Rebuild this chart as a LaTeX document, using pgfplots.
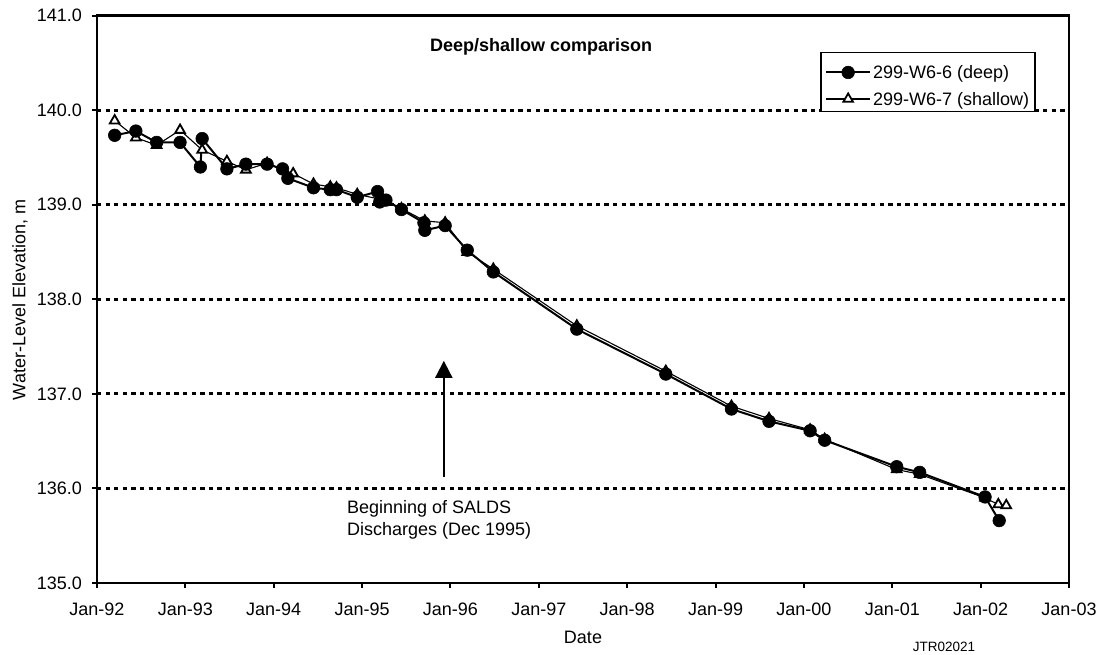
\documentclass[border=0pt]{standalone}
\usepackage{fontspec}
\setmainfont{Liberation Sans}
\usepackage{pgfplots}
\pgfplotsset{compat=1.18}
\usetikzlibrary{arrows.meta}

\pgfplotsset{
  deep/.style={black, line width=2pt, mark=*, mark size=6.3pt, mark options={solid, fill=black, line width=0.6pt}},
  shallow/.style={black, line width=1.1pt, mark=triangle*, mark size=5.6pt, mark options={solid, fill=white, line width=1.8pt}},
}

\begin{document}
\fontsize{18}{21.6}\selectfont
\begin{tikzpicture}
\path[use as bounding box] (-97pt,-72pt) rectangle (1006pt,583pt);
\begin{axis}[
  at={(0pt,0pt)}, anchor=south west,
  scale only axis, width=972pt, height=567.3pt,
  xmin=1992, xmax=2003, ymin=135, ymax=141,
  clip=false,
  xtick={1992,1993,1994,1995,1996,1997,1998,1999,2000,2001,2002,2003},
  xticklabels={Jan-92,Jan-93,Jan-94,Jan-95,Jan-96,Jan-97,Jan-98,Jan-99,Jan-00,Jan-01,Jan-02,Jan-03},
  ytick={135,136,137,138,139,140,141},
  /pgf/number format/assume math mode=true,
  yticklabel style={/pgf/number format/fixed, /pgf/number format/fixed zerofill, /pgf/number format/precision=1, anchor=east},
  every tick label/.append style={font=\fontsize{18}{20}\selectfont, inner sep=0pt},
  xticklabel style={anchor=north},
  yticklabel shift=10pt,
  xticklabel shift=15pt,
  xtick pos=lower, ytick pos=lower,
  tick align=outside,
  major tick length=5pt,
  tick style={line width=2pt, black},
  minor tick num=0,
  axis line style={line width=2.4pt, black},
  ymajorgrids,
  grid style={black, line width=2.8pt, dash pattern=on 4.3pt off 4.3pt},
  xlabel={Date},
  xlabel style={at={(axis description cs:0.5,0)}, anchor=center, yshift=-54pt, font=\fontsize{18}{20}\selectfont},
  ylabel={Water-Level Elevation, m},
  ylabel style={at={(axis description cs:-0.0792,0.4989)}, anchor=center, font=\fontsize{18}{20}\selectfont},
  legend style={at={(0.966,0.936)}, anchor=north east, draw=black, line width=1.5pt, fill=white,
    font=\fontsize{18}{20}\selectfont, inner xsep=4pt, inner ysep=4.2pt, row sep=2.6pt,
    nodes={text height=20pt, text depth=0pt, inner sep=2pt}},
  legend cell align=left,
  legend image code/.code={\draw[mark repeat=2,mark phase=2, yshift=-3.5pt] plot coordinates {(0pt,0pt)(22pt,0pt)(44pt,0pt)};},
]
\addlegendimage{deep}
\addlegendentry{299-W6-6 (deep)\hspace{6pt}}
\addlegendimage{shallow}
\addlegendentry{299-W6-7 (shallow)\hspace{6pt}}

\addplot[shallow, forget plot] coordinates {
(1992.20,139.89)
(1992.44,139.71)
(1992.675,139.63)
(1992.94,139.79)
(1993.19,139.58)
(1993.47,139.46)
(1993.685,139.37)
(1993.925,139.44)
(1994.22,139.33)
(1994.45,139.22)
(1994.64,139.19)
(1994.71,139.18)
(1994.945,139.11)
(1995.20,139.06)
(1995.445,138.96)
(1995.71,138.83)
(1995.94,138.81)
(1996.19,138.50)
(1996.485,138.32)
(1997.43,137.72)
(1998.437,137.24)
(1999.18,136.87)
(1999.605,136.74)
(2000.07,136.62)
(2000.235,136.52)
(2001.05,136.20)
(2001.31,136.15)
(2002.05,135.90)
(2002.20,135.83)
(2002.29,135.82)
};

\addplot[deep, forget plot] coordinates {
(1992.20,139.735)
(1992.44,139.78)
(1992.675,139.66)
(1992.94,139.66)
(1993.17,139.40)
(1993.19,139.70)
(1993.47,139.38)
(1993.685,139.43)
(1993.925,139.43)
(1994.10,139.38)
(1994.16,139.28)
(1994.45,139.18)
(1994.64,139.16)
(1994.71,139.16)
(1994.945,139.08)
(1995.175,139.14)
(1995.20,139.03)
(1995.27,139.05)
(1995.445,138.95)
(1995.70,138.81)
(1995.71,138.73)
(1995.94,138.78)
(1996.19,138.52)
(1996.485,138.29)
(1997.43,137.685)
(1998.437,137.21)
(1999.18,136.84)
(1999.605,136.71)
(2000.07,136.61)
(2000.235,136.51)
(2001.05,136.23)
(2001.31,136.17)
(2002.05,135.91)
(2002.21,135.66)
};

\draw[line width=2pt, -{Triangle[width=17pt,length=17pt]}] (axis cs:1995.925,136.12) -- (axis cs:1995.925,137.35);
\node[anchor=west, align=left, font=\fontsize{18}{22}\selectfont, inner sep=0pt] at (axis cs:1994.828,135.673) {Beginning of SALDS\\Discharges (Dec 1995)};
\node[anchor=west, font=\bfseries\fontsize{18}{20}\selectfont, inner sep=0pt] at (axis cs:1995.767,140.670) {Deep/shallow comparison};
\node[anchor=center, font=\fontsize{13.5}{15}\selectfont, inner sep=0pt] at (rel axis cs:0.8714,-0.1128) {JTR02021};
\end{axis}
\end{tikzpicture}
\end{document}
